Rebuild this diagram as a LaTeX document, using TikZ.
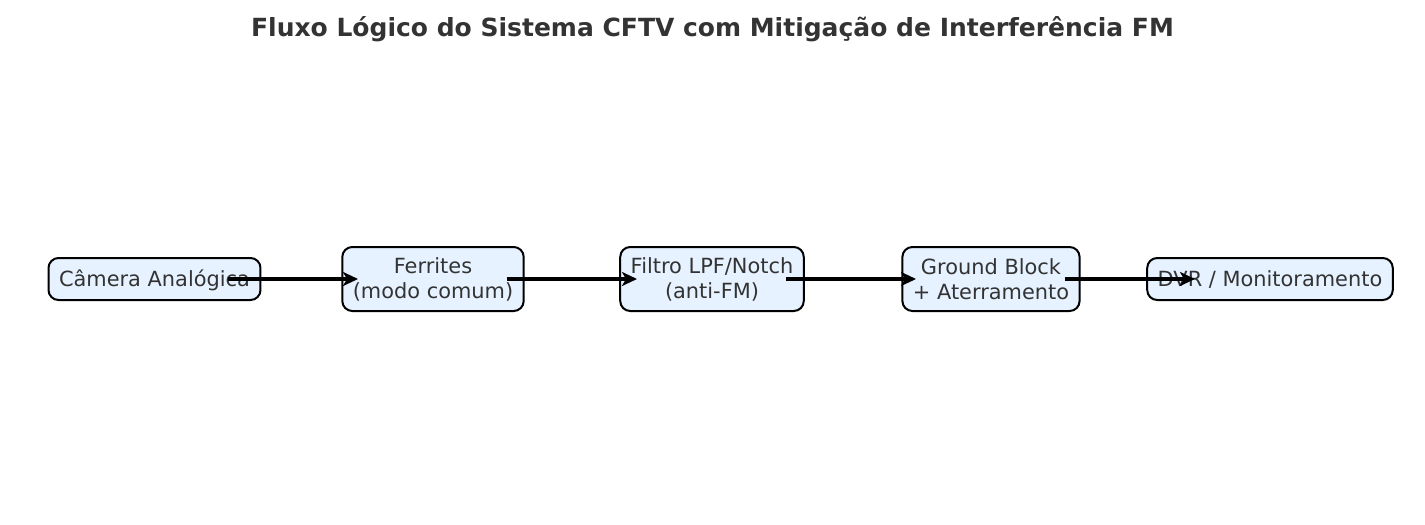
\documentclass[tikz,border=0pt]{standalone}
\usepackage{fontspec}
\setmainfont{DejaVu Sans}
\usetikzlibrary{arrows.meta}
\definecolor{blocofundo}{HTML}{E6F2FF}
\definecolor{textocinza}{HTML}{333333}
\tikzset{/cftv/base/.style={
	rectangle, draw=black, line width=2pt, rounded corners=10pt, fill=blocofundo, text=textocinza, align=center, inner xsep=10.5pt, inner ysep=0pt, font=\fontsize{20.9}{25}\selectfont
}}
\tikzset{/cftv/bloco/.style={/cftv/base, minimum height=42pt, text height=18pt, text depth=3.4pt}}
\tikzset{/cftv/bloco2/.style={/cftv/base, minimum height=64pt}}
\tikzset{/cftv/fluxo/.style={-{Stealth[length=15pt,width=14pt,inset=4pt]}, draw=black, line width=3.5pt, shorten <=73.5pt, shorten >=75pt}}
\tikzset{/cftv/titulo/.style={text=textocinza, font=\fontsize{25}{30}\selectfont\bfseries, inner sep=0pt, anchor=base}}

\begin{document}
\begin{tikzpicture}[x=1pt, y=-1pt]
			\useasboundingbox[fill=white] (0,0) rectangle (1425,525);
			\path (712.5,36) node[/cftv/titulo] (Titulo) {Fluxo Lógico do Sistema CFTV com Mitigação de Interferência FM};
			\path (154.5,279) node[/cftv/bloco] (Camera) {Câmera Analógica};
			\path (Camera.center) ++(278.5,0) node[/cftv/bloco2] (Ferrites) {Ferrites\\(modo comum)};
			\path (Ferrites.center) ++(279,0) node[/cftv/bloco2] (Filtro) {Filtro LPF/Notch\\(anti-FM)};
			\path (Filtro.center) ++(279,0) node[/cftv/bloco2] (Ground) {Ground Block\\+ Aterramento};
			\path (Ground.center) ++(279,0) node[/cftv/bloco] (DVR) {DVR / Monitoramento};
			\path[/cftv/fluxo] (Camera.center) -- (Ferrites.center);
			\path[/cftv/fluxo] (Ferrites.center) -- (Filtro.center);
			\path[/cftv/fluxo] (Filtro.center) -- (Ground.center);
			\path[/cftv/fluxo] (Ground.center) -- (DVR.center);
		\end{tikzpicture}
\end{document}
